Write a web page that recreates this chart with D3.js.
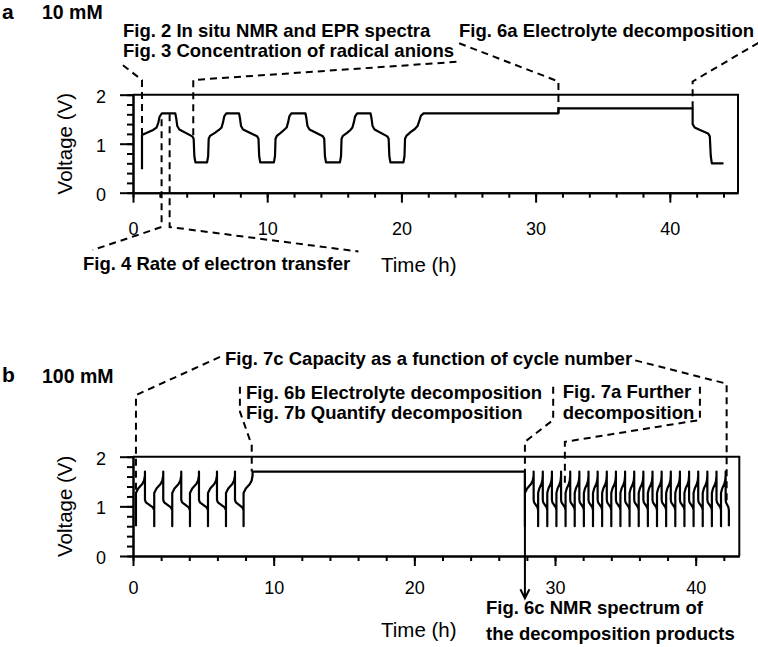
<!DOCTYPE html>
<html>
<head>
<meta charset="utf-8">
<script src="https://cdn.jsdelivr.net/npm/d3@7"></script>
<style>
body{margin:0;background:#fff;}
text{font-family:"Liberation Sans",Arial,sans-serif;fill:#000;}
</style>
</head>
<body>
<div id="chart"></div>
<script>
// ---- data ------------------------------------------------------
var yTicks = [0, 1, 2];
var xTicksA = [0, 10, 20, 30, 40];
var xTicksB = [0, 10, 20, 30, 40];

// panel a: 10 mM, voltage vs time (h, V)
var curveA = [
  [0.67,0.48],[0.67,1.18],[1.0,1.22],[1.5,1.28],[1.75,1.33],[1.88,1.42],[1.98,1.55],[2.15,1.62],
  [3.15,1.62],[3.22,1.52],[3.3,1.36],[3.45,1.29],[4.42,1.15],[4.52,1.1],[4.57,0.75],[4.65,0.62],
  [5.52,0.62],[5.6,0.75],[5.64,1.1],[5.74,1.16],[6.1,1.22],[6.4,1.28],[6.6,1.33],[6.72,1.45],[6.8,1.56],[6.95,1.62],
  [7.9,1.62],[7.97,1.52],[8.05,1.36],[8.2,1.29],[9.25,1.15],[9.35,1.1],[9.4,0.75],[9.48,0.62],
  [10.5,0.62],[10.58,0.75],[10.62,1.1],[10.72,1.16],[11.0,1.22],[11.25,1.28],[11.45,1.33],[11.57,1.45],[11.65,1.56],[11.8,1.62],
  [12.85,1.62],[12.92,1.52],[13.0,1.36],[13.15,1.29],[14.15,1.15],[14.25,1.1],[14.3,0.75],[14.38,0.62],
  [15.42,0.62],[15.5,0.75],[15.54,1.1],[15.64,1.16],[15.95,1.22],[16.2,1.28],[16.35,1.33],[16.47,1.45],[16.55,1.56],[16.7,1.62],
  [17.7,1.62],[17.77,1.52],[17.85,1.36],[18.0,1.29],[18.95,1.15],[19.05,1.1],[19.1,0.75],[19.18,0.62],
  [20.15,0.62],[20.23,0.75],[20.27,1.1],[20.37,1.16],[20.7,1.24],[21.0,1.3],[21.2,1.36],[21.35,1.48],[21.45,1.57],[21.65,1.62],
  [31.7,1.62],[31.7,1.72],
  [41.7,1.72],[41.7,1.4],[41.85,1.33],[42.25,1.28],[42.85,1.21],[42.98,1.15],[43.05,0.75],[43.13,0.6],[44.0,0.6]
];

// panel b: 100 mM, cycle bottoms / tops (h)
var bottomsB1 = [0.21, 1.51, 2.79, 4.05, 5.33, 6.61, 7.86];
var topsB1    = [0.85, 2.15, 3.43, 4.69, 5.97, 7.25, 8.5];
var holdEndB  = 27.86;
var bottomsB2 = [27.86, 28.80, 29.45, 30.10, 30.75, 31.40, 32.05, 32.70, 33.35, 34.00, 34.65,
                 35.30, 35.95, 36.60, 37.25, 37.90, 38.55, 39.20, 39.85, 40.50, 41.15, 41.80];
var topsB2    = [28.48, 29.13, 29.78, 30.43, 31.08, 31.73, 32.38, 33.03, 33.68, 34.33, 34.98,
                 35.63, 36.28, 36.93, 37.58, 38.23, 38.88, 39.53, 40.18, 40.83, 41.48, 42.13];
var endB2 = 42.36;
// shape of one charge / discharge step (fraction of step, V)
var chargeShape    = [[0,0.6],[0,1.27],[0.25,1.36],[0.7,1.45],[0.9,1.52],[1,1.62],[1,1.7]];
var dischargeShape = [[0,1.7],[0,1.13],[0.1,1.08],[0.85,0.98],[1,0.92],[1,0.6]];

// annotation leaders in data units (h, V)
var leadersA = [
  [[-0.75,2.6],[0.67,2.3],[0.67,1.18]],
  [[24.1,2.67],[4.49,2.3],[4.49,1.15]],
  [[24.3,3.05],[31.7,2.27],[31.7,1.62]],
  [[46.6,3.06],[41.7,2.27],[41.7,1.72]],
  [[2.13,1.5],[2.13,-0.7],[-3.0,-1.17]],
  [[2.73,1.6],[2.73,-0.7],[16.8,-1.2]]
];
var leadersB = [
  [[6.18,4.01],[0.21,3.24],[0.21,1.27]],
  [[35.7,3.94],[42.2,3.47],[42.2,1.1]],
  [[7.6,3.41],[7.6,2.91],[8.44,2.23],[8.44,1.7]],
  [[29.87,3.41],[29.87,2.74],[27.86,2.3],[27.86,1.7]],
  [[40.3,3.41],[40.3,2.74],[30.7,2.3],[30.7,1.45]]
];
var arrowB = [[27.86,1.7],[27.86,-0.85]];

// ---- layout -----------------------------------------------------
var svg = d3.select('#chart').append('svg')
    .attr('width', 758).attr('height', 647);

function buildB() {
  var pts = [];
  function cycles(bottoms, tops, endT) {
    bottoms.forEach(function(b, i) {
      var T = tops[i];
      chargeShape.forEach(function(p){ pts.push([b + p[0]*(T-b), p[1]]); });
      var nb = i < bottoms.length-1 ? bottoms[i+1] : endT;
      if (nb == null) return;
      dischargeShape.forEach(function(p){ pts.push([T + p[0]*(nb-T), p[1]]); });
    });
  }
  cycles(bottomsB1, topsB1, null);
  pts.push([holdEndB, 1.7]);
  cycles(bottomsB2, topsB2, endB2);
  return pts;
}

var panels = [
  {letter:'a', conc:'10 mM', letterY:19, concY:18.5, y0:192.7, y2:94.7, tMax:45.08, right:738,
   xTicks:xTicksA, tickPad:19.5, curve:curveA, leaders:leadersA, titleY:271.5},
  {letter:'b', conc:'100 mM', letterY:381.5, concY:383, y0:556, y2:456.7, tMax:43.1, right:739.3,
   xTicks:xTicksB, tickPad:15, curve:buildB(), leaders:leadersB, titleY:637}
];

panels.forEach(function(p) {
  var x = d3.scaleLinear().domain([0, p.tMax]).range([133, p.right]);
  var y = d3.scaleLinear().domain([0, 2]).range([p.y0, p.y2]);
  var g = svg.append('g');
  p.x = x; p.y = y; p.g = g;

  // minor ticks
  g.append('g').attr('class','ax').attr('transform','translate(133,0)')
    .call(d3.axisLeft(y).tickValues(d3.range(0, 2.01, 0.2)).tickSize(6).tickSizeOuter(0).tickFormat(''));
  g.append('g').attr('class','ax').attr('transform','translate(0,' + p.y0 + ')')
    .call(d3.axisBottom(x).tickValues(d3.range(0, p.tMax, 2)).tickSize(5).tickSizeOuter(0).tickFormat(''));
  // major ticks
  g.append('g').attr('class','ax').attr('transform','translate(133,0)')
    .call(d3.axisLeft(y).tickValues(yTicks).tickSize(13).tickSizeOuter(0).tickPadding(14)
      .tickFormat(d3.format('d')))
    .selectAll('text').attr('dy','0.42em');
  g.append('g').attr('class','ax').attr('transform','translate(0,' + p.y0 + ')')
    .call(d3.axisBottom(x).tickValues(p.xTicks).tickSize(10).tickSizeOuter(0).tickPadding(p.tickPad));

  // box top / right
  g.append('path')
    .attr('d', 'M' + x(0) + ',' + y(2) + 'H' + x(p.tMax) + 'V' + y(0))
    .attr('fill','none').attr('stroke','#000').attr('stroke-width',2);

  // data curve
  g.append('path').datum(p.curve)
    .attr('d', d3.line().x(function(d){return x(d[0]);}).y(function(d){return y(d[1]);}))
    .attr('fill','none').attr('stroke','#000').attr('stroke-width',2.2)
    .attr('stroke-linejoin','round');

  // leaders
  g.selectAll('.lead').data(p.leaders).enter().append('path')
    .attr('d', d3.line().x(function(d){return x(d[0]);}).y(function(d){return y(d[1]);}))
    .attr('fill','none').attr('stroke','#000').attr('stroke-width',2)
    .attr('stroke-dasharray','7,5');

  // labels
  g.append('text').attr('x', 2).attr('y', p.letterY)
    .style('font-size','21px').style('font-weight','bold').text(p.letter);
  g.append('text').attr('x', 42).attr('y', p.concY)
    .style('font-size','19.5px').style('font-weight','bold').text(p.conc);
  g.append('text').attr('x', 381).attr('y', p.titleY)
    .style('font-size','20.5px').text('Time (h)');
  g.append('text')
    .attr('transform','translate(71.5,' + y(1) + ') rotate(-90)')
    .attr('text-anchor','middle').style('font-size','20.5px').text('Voltage (V)');
});

svg.selectAll('.ax path, .ax line').attr('stroke','#000').attr('stroke-width',2);
svg.selectAll('.ax text').style('font-size','18px').style('font-family','"Liberation Sans",Arial,sans-serif');

// arrow in panel b
var pb = panels[1];
var tip = [pb.x(arrowB[1][0]), pb.y(arrowB[1][1])];
pb.g.append('path')
  .attr('d', 'M' + pb.x(arrowB[0][0]) + ',' + pb.y(arrowB[0][1]) + 'V' + tip[1] +
             'M' + (tip[0]-4.5) + ',' + (tip[1]-9) + 'L' + tip[0] + ',' + tip[1] + 'L' + (tip[0]+4.5) + ',' + (tip[1]-9))
  .attr('fill','none').attr('stroke','#000').attr('stroke-width',2);

// annotation texts
var notes = [
  ['Fig. 2 In situ NMR and EPR spectra', 123, 36.7],
  ['Fig. 3 Concentration of radical anions', 123, 57],
  ['Fig. 6a Electrolyte decomposition', 459, 37],
  ['Fig. 4 Rate of electron transfer', 83, 270],
  ['Fig. 7c Capacity as a function of cycle number', 225, 364.5],
  ['Fig. 6b Electrolyte decomposition', 246, 398.5],
  ['Fig. 7b Quantify decomposition', 246, 419],
  ['Fig. 7a Further', 562.7, 398],
  ['decomposition', 562.7, 419],
  ['Fig. 6c NMR spectrum of', 486, 614],
  ['the decomposition products', 486, 640]
];
svg.selectAll('.note').data(notes).enter().append('text')
  .attr('x', function(d){return d[1];}).attr('y', function(d){return d[2];})
  .style('font-size','18.5px').style('font-weight','bold')
  .text(function(d){return d[0];});
</script>
</body>
</html>
